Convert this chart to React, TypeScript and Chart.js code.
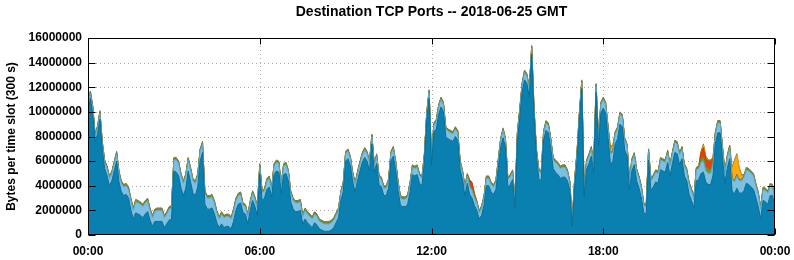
import { useEffect, useRef } from "react";
import { Chart, registerables } from "chart.js";

Chart.register(...registerables);

const chartTitle = "Destination TCP Ports -- 2018-06-25 GMT";
const yAxisTitle = "Bytes per time slot (300 s)";
const xTickLabels = ["00:00", "06:00", "12:00", "18:00", "00:00"];
const slotMinutes = 5; // 300 s per slot
const unit = 1000000; // series values below are in millions of bytes

// bottom layer (dark blue)
const darkBlue = [
  10.2, 11.1, 9.8, 7.6, 8.2, 9.4, 6.9, 5.4, 4.8, 4.0,
  4.4, 5.2, 6.0, 4.3, 3.5, 3.2, 3.3, 3.0, 2.0, 1.3,
  1.8, 1.7, 1.6, 1.4, 1.7, 1.9, 1.2, 0.7, 1.1, 1.1,
  1.1, 1.1, 0.6, 0.9, 1.2, 1.3, 5.2, 5.1, 4.8, 3.8,
  3.2, 3.8, 5.2, 4.3, 3.4, 3.2, 3.9, 6.0, 6.7, 2.5,
  2.1, 2.1, 2.2, 1.7, 1.0, 0.6, 0.9, 0.6, 0.7, 0.7,
  0.5, 1.1, 2.0, 2.5, 2.6, 1.8, 1.7, 0.9, 2.0, 2.8,
  2.3, 1.6, 5.0, 2.8, 3.0, 3.7, 3.9, 3.1, 4.9, 5.2,
  5.1, 3.4, 4.9, 5.0, 4.4, 2.7, 2.1, 1.9, 1.9, 2.0,
  0.9, 1.3, 1.0, 0.8, 0.6, 1.0, 0.8, 0.5, 0.4, 0.3,
  0.3, 0.3, 0.4, 0.6, 1.0, 1.4, 2.8, 3.5, 6.0, 6.2,
  5.6, 4.3, 3.5, 4.4, 5.2, 5.9, 6.3, 6.0, 5.2, 7.4,
  5.1, 5.8, 4.1, 3.9, 3.2, 3.2, 3.8, 6.0, 6.4, 5.2,
  3.6, 2.4, 2.3, 2.3, 2.5, 3.5, 4.9, 4.8, 4.9, 4.2,
  4.0, 5.8, 9.3, 11.1, 5.7, 8.4, 8.6, 9.8, 10.4, 10.0,
  8.0, 7.8, 7.7, 7.6, 8.0, 7.7, 5.3, 4.5, 3.2, 4.2,
  3.3, 3.0, 2.4, 2.0, 1.3, 1.6, 2.4, 4.0, 4.0, 3.5,
  3.3, 3.7, 5.4, 7.1, 7.9, 7.1, 3.9, 4.1, 4.5, 2.2,
  7.6, 9.5, 11.6, 12.6, 12.3, 11.2, 14.7, 9.6, 6.3, 4.6,
  4.4, 7.7, 8.5, 8.3, 7.0, 5.4, 5.1, 4.9, 4.6, 4.7,
  4.7, 4.4, 3.6, 0.7, 3.9, 6.0, 9.3, 11.9, 3.1, 5.3,
  5.8, 6.4, 5.1, 11.6, 7.2, 9.9, 10.3, 9.9, 7.9, 5.8,
  5.9, 7.4, 7.8, 9.0, 8.8, 6.9, 6.4, 3.7, 5.2, 5.7,
  4.4, 3.8, 3.0, 1.8, 1.7, 6.1, 3.6, 3.9, 4.3, 4.2,
  5.3, 5.2, 5.1, 5.9, 4.8, 5.8, 6.7, 6.6, 5.7, 6.2,
  4.8, 4.4, 3.3, 2.8, 2.2, 4.4, 4.5, 5.0, 5.1, 4.3,
  4.1, 4.1, 4.8, 7.4, 8.3, 8.3, 6.2, 4.2, 5.4, 6.2,
  3.6, 3.3, 3.8, 3.4, 3.4, 3.6, 4.2, 4.1, 3.9, 3.7,
  3.0, 2.3, 1.3, 2.8, 2.7, 2.5, 3.2, 3.2, 2.2,
];

// second layer (light blue)
const lightBlue = [
  0.4, 0.4, 0.5, 0.4, 0.5, 0.5, 0.5, 0.5, 0.6, 0.6,
  0.6, 0.6, 0.6, 0.7, 0.7, 0.7, 0.7, 0.7, 0.8, 0.7,
  0.9, 0.9, 0.9, 0.9, 0.9, 0.9, 0.8, 0.7, 0.8, 0.9,
  0.9, 0.9, 0.8, 0.8, 0.9, 0.9, 0.9, 1.0, 1.0, 1.0,
  1.0, 1.0, 0.9, 1.0, 1.0, 1.0, 0.9, 0.8, 0.7, 0.9,
  0.9, 0.9, 0.9, 0.9, 0.8, 0.7, 0.8, 0.8, 0.8, 0.8,
  0.8, 0.8, 0.8, 0.7, 0.7, 0.6, 0.6, 0.6, 0.6, 0.6,
  0.6, 0.6, 0.6, 0.6, 0.6, 0.7, 0.7, 0.6, 0.7, 0.7,
  0.7, 0.6, 0.7, 0.7, 0.7, 0.7, 0.7, 0.7, 0.7, 0.7,
  0.6, 0.7, 0.7, 0.7, 0.7, 0.7, 0.7, 0.6, 0.6, 0.6,
  0.6, 0.6, 0.6, 0.6, 0.6, 0.6, 0.6, 0.6, 0.6, 0.6,
  0.6, 0.6, 0.6, 0.6, 0.6, 0.6, 0.6, 0.6, 0.6, 0.6,
  0.5, 0.6, 0.6, 0.6, 0.6, 0.6, 0.6, 0.6, 0.6, 0.6,
  0.6, 0.6, 0.6, 0.6, 0.6, 0.6, 0.6, 0.6, 0.6, 0.6,
  0.6, 0.6, 0.5, 0.5, 0.4, 0.5, 0.6, 0.6, 0.6, 0.6,
  0.6, 0.6, 0.6, 0.6, 0.6, 0.6, 0.6, 0.6, 0.6, 0.6,
  0.6, 0.6, 0.6, 0.6, 0.5, 0.6, 0.6, 0.6, 0.6, 0.6,
  0.6, 0.6, 0.6, 0.6, 0.6, 0.6, 0.6, 0.6, 0.6, 0.5,
  0.6, 0.6, 0.6, 0.6, 0.6, 0.6, 0.5, 0.5, 0.5, 0.6,
  0.6, 0.6, 0.6, 0.6, 0.7, 0.7, 0.8, 0.8, 0.8, 0.8,
  0.8, 0.7, 0.6, 0.3, 0.5, 0.6, 0.5, 0.5, 0.5, 0.6,
  0.6, 0.6, 0.6, 0.5, 0.6, 0.7, 0.7, 0.7, 0.8, 0.8,
  0.8, 0.8, 0.8, 0.8, 0.8, 0.8, 0.8, 0.7, 0.8, 0.8,
  0.8, 0.8, 0.8, 0.6, 0.6, 0.7, 0.8, 0.8, 0.8, 0.8,
  0.8, 0.8, 0.8, 0.8, 0.8, 0.8, 0.8, 0.8, 0.8, 0.8,
  0.8, 0.8, 0.8, 0.8, 0.7, 0.9, 0.9, 0.9, 0.9, 0.9,
  0.9, 0.9, 0.9, 0.8, 0.8, 0.8, 0.8, 0.8, 0.9, 0.9,
  0.9, 1.0, 1.0, 1.0, 1.0, 1.1, 1.1, 1.1, 1.1, 1.1,
  1.0, 1.0, 0.8, 0.9, 0.9, 0.9, 0.8, 0.7, 0.6,
];

// third layer (green, thin)
const green = [
  0.1, 0.1, 0.1, 0.1, 0.1, 0.1, 0.1, 0.1, 0.1, 0.1,
  0.1, 0.1, 0.1, 0.1, 0.1, 0.1, 0.1, 0.1, 0.1, 0.1,
  0.1, 0.1, 0.1, 0.1, 0.1, 0.1, 0.1, 0.1, 0.1, 0.1,
  0.1, 0.1, 0.1, 0.1, 0.1, 0.1, 0.1, 0.1, 0.1, 0.1,
  0.1, 0.1, 0.1, 0.1, 0.1, 0.1, 0.1, 0.1, 0.1, 0.1,
  0.1, 0.1, 0.1, 0.1, 0.1, 0.1, 0.1, 0.1, 0.1, 0.1,
  0.1, 0.1, 0.1, 0.1, 0.1, 0.1, 0.1, 0.1, 0.1, 0.1,
  0.1, 0.1, 0.1, 0.1, 0.1, 0.1, 0.1, 0.1, 0.1, 0.1,
  0.1, 0.1, 0.1, 0.1, 0.1, 0.1, 0.1, 0.1, 0.1, 0.1,
  0.1, 0.1, 0.1, 0.1, 0.1, 0.1, 0.1, 0.1, 0.1, 0.1,
  0.1, 0.1, 0.1, 0.1, 0.1, 0.1, 0.1, 0.1, 0.1, 0.1,
  0.1, 0.1, 0.1, 0.1, 0.1, 0.1, 0.1, 0.1, 0.1, 0.1,
  0.1, 0.1, 0.1, 0.1, 0.1, 0.1, 0.1, 0.1, 0.1, 0.1,
  0.1, 0.1, 0.1, 0.1, 0.1, 0.1, 0.1, 0.1, 0.1, 0.1,
  0.1, 0.1, 0.1, 0.1, 0.1, 0.1, 0.1, 0.1, 0.1, 0.1,
  0.1, 0.1, 0.1, 0.1, 0.1, 0.1, 0.1, 0.1, 0.1, 0.1,
  0.1, 0.1, 0.1, 0.1, 0.1, 0.1, 0.1, 0.1, 0.1, 0.1,
  0.1, 0.1, 0.1, 0.1, 0.1, 0.1, 0.1, 0.1, 0.1, 0.1,
  0.1, 0.1, 0.1, 0.1, 0.1, 0.1, 0.1, 0.1, 0.1, 0.1,
  0.1, 0.1, 0.1, 0.1, 0.1, 0.1, 0.1, 0.1, 0.1, 0.1,
  0.1, 0.1, 0.1, 0.1, 0.1, 0.1, 0.1, 0.1, 0.1, 0.1,
  0.1, 0.1, 0.1, 0.1, 0.1, 0.1, 0.1, 0.1, 0.1, 0.1,
  0.1, 0.1, 0.1, 0.1, 0.1, 0.1, 0.1, 0.1, 0.1, 0.1,
  0.1, 0.1, 0.1, 0.1, 0.1, 0.1, 0.1, 0.1, 0.1, 0.1,
  0.1, 0.1, 0.1, 0.1, 0.1, 0.1, 0.1, 0.1, 0.1, 0.1,
  0.1, 0.1, 0.1, 0.1, 0.1, 0.1, 0.1, 0.3, 0.3, 0.3,
  0.3, 0.3, 0.2, 0.1, 0.1, 0.1, 0.1, 0.1, 0.1, 0.1,
  0.1, 0.1, 0.1, 0.1, 0.1, 0.1, 0.1, 0.1, 0.1, 0.1,
  0.1, 0.1, 0.1, 0.1, 0.1, 0.1, 0.1, 0.1, 0.1,
];

// fourth layer (red)
const red = [
  0, 0, 0, 0, 0, 0, 0, 0, 0, 0,
  0, 0, 0, 0, 0, 0, 0, 0, 0, 0,
  0, 0, 0, 0, 0, 0, 0, 0, 0, 0,
  0, 0, 0, 0, 0, 0, 0, 0, 0, 0,
  0, 0, 0, 0, 0, 0, 0, 0, 0, 0,
  0, 0, 0, 0, 0, 0, 0, 0, 0, 0,
  0, 0, 0, 0, 0, 0, 0, 0, 0, 0,
  0, 0, 0, 0, 0, 0, 0, 0, 0, 0,
  0, 0, 0, 0, 0, 0, 0, 0, 0, 0,
  0, 0, 0, 0, 0, 0, 0, 0, 0, 0,
  0, 0, 0, 0, 0, 0, 0, 0, 0, 0,
  0, 0, 0, 0, 0, 0, 0, 0, 0, 0,
  0, 0, 0, 0, 0, 0, 0, 0, 0, 0,
  0, 0, 0, 0, 0, 0, 0, 0, 0, 0,
  0, 0, 0, 0, 0, 0, 0, 0, 0, 0,
  0, 0, 0, 0, 0, 0, 0, 0, 0, 0,
  0.4, 0.5, 0.2, 0, 0, 0, 0, 0, 0, 0,
  0, 0, 0, 0, 0, 0, 0, 0, 0, 0,
  0, 0, 0, 0, 0, 0, 0, 0, 0, 0,
  0, 0, 0, 0, 0, 0, 0, 0, 0, 0,
  0, 0, 0, 0, 0, 0, 0, 0, 0, 0,
  0, 0, 0, 0, 0, 0, 0, 0, 0, 0,
  0, 0, 0, 0, 0, 0, 0, 0, 0, 0,
  0, 0, 0, 0, 0, 0, 0, 0, 0, 0,
  0, 0, 0, 0, 0, 0, 0, 0, 0, 0,
  0, 0, 0, 0, 0, 0, 0, 0.5, 0.8, 0.7,
  0.7, 0.7, 0.3, 0, 0, 0, 0, 0, 0, 0,
  0, 0, 0, 0, 0, 0, 0, 0, 0, 0,
  0, 0, 0, 0, 0, 0, 0, 0, 0,
];

// fifth layer (orange)
const orange = [
  0, 0, 0, 0, 0, 0, 0, 0, 0, 0,
  0, 0, 0, 0, 0, 0, 0, 0, 0, 0,
  0, 0, 0, 0, 0, 0, 0, 0, 0, 0,
  0, 0, 0, 0, 0, 0, 0, 0, 0, 0,
  0, 0, 0, 0, 0, 0, 0, 0, 0, 0,
  0, 0, 0, 0, 0, 0, 0, 0, 0, 0,
  0, 0, 0, 0, 0, 0, 0, 0, 0, 0,
  0, 0, 0, 0, 0, 0, 0, 0, 0, 0,
  0, 0, 0, 0, 0, 0, 0, 0, 0, 0,
  0, 0, 0, 0, 0, 0, 0, 0, 0, 0,
  0, 0, 0, 0, 0, 0, 0, 0, 0, 0,
  0, 0, 0, 0, 0, 0, 0, 0, 0, 0,
  0, 0, 0, 0, 0, 0, 0, 0, 0, 0,
  0, 0, 0, 0, 0, 0, 0, 0, 0, 0,
  0, 0, 0, 0, 0, 0, 0, 0, 0, 0,
  0, 0, 0, 0, 0, 0, 0, 0, 0, 0,
  0, 0, 0, 0, 0, 0, 0, 0, 0, 0,
  0, 0, 0, 0, 0, 0, 0, 0, 0, 0,
  0, 0, 0, 0, 0, 0, 0, 0, 0, 0,
  0, 0, 0, 0, 0, 0, 0, 0, 0, 0,
  0, 0, 0, 0, 0, 0, 0, 0, 0, 0,
  0, 0, 0, 0, 0, 0, 0, 0, 0, 0.4,
  0.4, 0, 0, 0, 0, 0, 0, 0, 0, 0,
  0, 0, 0, 0, 0, 0, 0, 0, 0, 0,
  0, 0, 0, 0, 0, 0, 0, 0, 0, 0,
  0, 0, 0, 0, 0, 0, 0, 0, 0.2, 0.1,
  0, 0, 0, 0, 0, 0, 0, 0, 0, 0,
  0.8, 1.6, 1.6, 0.9, 0.3, 0, 0, 0, 0, 0,
  0, 0, 0, 0, 0, 0, 0, 0, 0,
];

// top layer (olive, thin)
const olive = [
  0.1, 0.1, 0.1, 0.1, 0.1, 0.1, 0.1, 0.1, 0.1, 0.1,
  0.1, 0.1, 0.1, 0.1, 0.1, 0.1, 0.1, 0.1, 0.1, 0.1,
  0.1, 0.1, 0.1, 0.1, 0.1, 0.1, 0.1, 0.1, 0.1, 0.1,
  0.1, 0.1, 0.1, 0.1, 0.1, 0.1, 0.1, 0.1, 0.1, 0.1,
  0.1, 0.1, 0.1, 0.1, 0.1, 0.1, 0.1, 0.1, 0.1, 0.1,
  0.1, 0.1, 0.1, 0.1, 0.1, 0.1, 0.1, 0.1, 0.1, 0.1,
  0.1, 0.1, 0.1, 0.1, 0.1, 0.1, 0.1, 0.1, 0.1, 0.1,
  0.1, 0.1, 0.1, 0.1, 0.1, 0.1, 0.1, 0.1, 0.1, 0.1,
  0.1, 0.1, 0.1, 0.1, 0.1, 0.1, 0.1, 0.1, 0.1, 0.1,
  0.1, 0.1, 0.1, 0.1, 0.1, 0.1, 0.1, 0.1, 0.1, 0.1,
  0.1, 0.1, 0.1, 0.1, 0.1, 0.1, 0.1, 0.1, 0.1, 0.1,
  0.1, 0.1, 0.1, 0.1, 0.1, 0.1, 0.1, 0.1, 0.1, 0.1,
  0.1, 0.1, 0.1, 0.1, 0.1, 0.1, 0.1, 0.1, 0.1, 0.1,
  0.1, 0.1, 0.1, 0.1, 0.1, 0.1, 0.1, 0.1, 0.1, 0.1,
  0.1, 0.1, 0.1, 0.1, 0.1, 0.1, 0.1, 0.1, 0.1, 0.1,
  0.1, 0.1, 0.1, 0.1, 0.1, 0.1, 0.1, 0.1, 0.1, 0.1,
  0.1, 0.1, 0.1, 0.1, 0.1, 0.1, 0.1, 0.1, 0.1, 0.1,
  0.1, 0.1, 0.1, 0.1, 0.1, 0.1, 0.1, 0.1, 0.1, 0.1,
  0.1, 0.1, 0.1, 0.1, 0.1, 0.1, 0.1, 0.1, 0.1, 0.1,
  0.1, 0.1, 0.1, 0.1, 0.1, 0.1, 0.1, 0.1, 0.1, 0.1,
  0.1, 0.1, 0.1, 0.1, 0.1, 0.1, 0.1, 0.1, 0.1, 0.1,
  0.1, 0.1, 0.1, 0.1, 0.1, 0.1, 0.1, 0.1, 0.1, 0.1,
  0.1, 0.1, 0.1, 0.1, 0.1, 0.1, 0.1, 0.1, 0.1, 0.1,
  0.1, 0.1, 0.1, 0.1, 0.1, 0.1, 0.1, 0.1, 0.1, 0.1,
  0.1, 0.1, 0.1, 0.1, 0.1, 0.1, 0.1, 0.1, 0.1, 0.1,
  0.1, 0.1, 0.1, 0.1, 0.1, 0.1, 0.1, 0.1, 0.1, 0.1,
  0.1, 0.1, 0.1, 0.1, 0.1, 0.1, 0.1, 0.1, 0.1, 0.1,
  0.1, 0.1, 0.1, 0.1, 0.1, 0.1, 0.1, 0.1, 0.1, 0.1,
  0.1, 0.1, 0.1, 0.1, 0.1, 0.1, 0.1, 0.1, 0.1,
];

const FONT = "'Liberation Sans', Arial, Helvetica, sans-serif";

const toPoints = (arr: number[]) =>
  arr.map((v, i) => ({ x: i * slotMinutes, y: v * unit }));

const framePlugin = {
  id: "gnuplotFrame",
  beforeDatasetsDraw(chart: any) {
    const { ctx, chartArea: a, scales } = chart;
    const xs = scales.x;
    const ys = scales.y;
    ctx.save();
    ctx.strokeStyle = "#a8a8a8";
    ctx.lineWidth = 1;
    ctx.setLineDash([1, 3]);
    ctx.beginPath();
    ys.ticks.forEach((t: any) => {
      const py = Math.round(ys.getPixelForValue(t.value)) + 0.5;
      if (py > a.top + 1 && py < a.bottom - 1) {
        ctx.moveTo(a.left, py);
        ctx.lineTo(a.right, py);
      }
    });
    xs.ticks.forEach((t: any) => {
      const px = Math.round(xs.getPixelForValue(t.value)) + 0.5;
      if (px > a.left + 1 && px < a.right - 1) {
        ctx.moveTo(px, a.top);
        ctx.lineTo(px, a.bottom);
      }
    });
    ctx.stroke();
    ctx.restore();
  },
  afterDatasetsDraw(chart: any) {
    const { ctx, chartArea: a, scales } = chart;
    const xs = scales.x;
    const ys = scales.y;
    const L = Math.round(a.left) + 0.5;
    const R = Math.round(a.right) - 0.5;
    const T = Math.round(a.top) + 0.5;
    const B = Math.round(a.bottom) - 0.5;
    ctx.save();
    ctx.strokeStyle = "#000";
    ctx.lineWidth = 1;
    ctx.setLineDash([]);
    ctx.beginPath();
    ys.ticks.forEach((t: any) => {
      const py = Math.round(ys.getPixelForValue(t.value)) + 0.5;
      ctx.moveTo(L, py);
      ctx.lineTo(L + 7, py);
      ctx.moveTo(R, py);
      ctx.lineTo(R - 7, py);
    });
    xs.ticks.forEach((t: any) => {
      const px = Math.round(xs.getPixelForValue(t.value)) + 0.5;
      ctx.moveTo(px, T);
      ctx.lineTo(px, T + 6);
      ctx.moveTo(px, B);
      ctx.lineTo(px, B - 6);
    });
    ctx.stroke();
    ctx.strokeRect(L, T, R - L, B - T);
    ctx.restore();
  },
};

export default function App() {
  const canvasRef = useRef<HTMLCanvasElement | null>(null);

  useEffect(() => {
    const canvas = canvasRef.current;
    if (!canvas) return;

    const layers = [
      { label: "dark", data: darkBlue, bg: "#0a80b1", border: "#066c96", fill: "origin" },
      { label: "light", data: lightBlue, bg: "#7fc0e2", border: "#5aa6cc", fill: "-1" },
      { label: "green", data: green, bg: "#5da03c", border: "#4f9232", fill: "-1" },
      { label: "red", data: red, bg: "#e0440c", border: "#cc3a00", fill: "-1" },
      { label: "orange", data: orange, bg: "#ffaa10", border: "#e89a00", fill: "-1" },
      { label: "other", data: olive, bg: "#9a8a48", border: "#85773a", fill: "-1" },
    ];

    const chart = new Chart(canvas, {
      type: "line",
      data: {
        datasets: layers.map((l) => ({
          label: l.label,
          data: toPoints(l.data),
          backgroundColor: l.bg,
          borderColor: l.border,
          borderWidth: 1,
          fill: l.fill,
          pointRadius: 0,
          tension: 0,
        })),
      },
      options: {
        responsive: false,
        maintainAspectRatio: false,
        animation: false,
        layout: { padding: { left: 0, right: 19, top: 0, bottom: 0 } },
        plugins: {
          legend: { display: false },
          tooltip: { enabled: false },
          title: {
            display: true,
            text: chartTitle,
            fullSize: false,
            color: "#000",
            font: { family: FONT, size: 14, weight: "bold", lineHeight: 1.2 },
            padding: { top: 4, bottom: 17.2 },
          },
        },
        scales: {
          x: {
            type: "linear",
            min: 0,
            max: 1440,
            grid: { display: false, drawTicks: false },
            border: { display: false },
            ticks: {
              stepSize: 360,
              autoSkip: false,
              maxRotation: 0,
              padding: 9,
              color: "#000",
              font: { family: FONT, size: 12, weight: "bold" },
              callback: (v: any) => xTickLabels[Math.round(Number(v) / 360)] ?? "",
            },
            afterFit: (s: any) => {
              s.height = 25;
              s.paddingLeft = 0;
              s.paddingRight = 0;
            },
          },
          y: {
            stacked: true,
            min: 0,
            max: 16 * unit,
            grid: { display: false, drawTicks: false },
            border: { display: false },
            ticks: {
              stepSize: 2 * unit,
              padding: 6,
              color: "#000",
              font: { family: FONT, size: 12, weight: "bold" },
              callback: (v: any) => String(v),
            },
            title: {
              display: true,
              text: yAxisTitle,
              color: "#000",
              font: { family: FONT, size: 12, weight: "bold" },
              padding: { top: 4, bottom: 0 },
            },
            afterFit: (s: any) => {
              s.width = 88;
              s.paddingTop = 0;
              s.paddingBottom = 0;
            },
          },
        },
      },
      plugins: [framePlugin],
    } as any);

    return () => {
      chart.destroy();
    };
  }, []);

  return (
    <div
      style={{
        position: "fixed",
        left: 0,
        top: 0,
        width: 794,
        height: 260,
        background: "#fff",
      }}
    >
      <canvas ref={canvasRef} width={794} height={260} style={{ display: "block" }} />
    </div>
  );
}
